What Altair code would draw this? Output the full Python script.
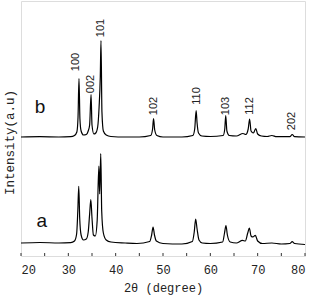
import altair as alt
import pandas as pd

# --- data ---
b_theta = [20.0, 24.0, 28.0, 30.5, 31.3, 31.8, 32.05, 32.25, 32.45, 32.7, 33.2, 33.8, 34.2, 34.5, 34.8, 35.0,
           35.4, 35.8, 36.2, 36.5, 36.75, 36.9, 37.1, 37.4, 38.0, 39.0, 42.0, 45.0, 47.4, 47.8, 48.0, 48.25,
           48.7, 50.0, 54.0, 56.3, 56.7, 57.0, 57.2, 57.5, 58.2, 60.0, 62.7, 63.05, 63.25, 63.5, 64.0, 65.5,
           66.9, 67.5, 68.0, 68.3, 68.6, 69.1, 69.6, 70.0, 70.8, 72.0, 73.0, 74.0, 76.8, 77.3, 77.8, 80.0]
b_int = [119, 119.3, 119, 119.3, 120.5, 124, 139, 177.5, 137, 125, 121, 121.5, 125, 131, 161.5, 131,
         122, 123, 129, 149, 179, 215.5, 144, 125, 121, 119.5, 119, 119, 120.5, 127, 137.5, 126,
         120.5, 119, 119, 120.5, 127, 145.5, 133, 123, 120, 119.5, 120.5, 127, 140.5, 125, 120.5, 120,
         122.5, 121.5, 127, 137, 125, 123, 127.5, 122, 120, 119.5, 120.5, 119.3, 119.3, 121.5, 119.3, 119]

a_theta = [20.0, 24.0, 28.0, 30.5, 31.3, 31.75, 32.0, 32.2, 32.4, 32.7, 33.2, 33.8, 34.2, 34.5, 34.75, 35.0,
           35.3, 35.7, 36.1, 36.45, 36.62, 36.85, 37.05, 37.4, 38.0, 39.0, 42.0, 44.5, 47.2, 47.6, 47.9, 48.2,
           48.6, 50.0, 54.0, 56.2, 56.6, 56.9, 57.2, 57.6, 58.3, 60.0, 62.6, 63.0, 63.3, 63.6, 64.2, 65.5,
           66.8, 67.4, 67.9, 68.25, 68.6, 69.0, 69.5, 70.0, 71.0, 73.0, 75.0, 76.8, 77.3, 77.8, 80.0]
a_int = [13, 13.5, 13, 13.3, 15, 22, 45, 69.6, 38, 21, 16, 17, 24, 42, 56.3, 38,
         21, 20, 36, 90, 62, 102.3, 45, 23, 16, 14, 13, 12.5, 14.5, 21, 29, 21,
         15, 12.5, 12, 14.5, 24, 37, 27, 16, 13, 12.5, 14, 23, 30.3, 21, 14, 13,
         15.6, 15, 23, 28, 20, 19, 20.6, 15, 12.5, 13, 12, 12.5, 14.3, 12.5, 11.5]

peak_labels = ["100", "002", "101", "102", "110", "103", "112", "202"]
peak_label_theta = [31.62, 34.79, 36.90, 48.10, 57.18, 63.31, 68.38, 77.25]
peak_label_int = [194, 172, 228, 150, 160, 150, 150, 135]

curve_names = ["b", "a"]
curve_name_theta = [24.0, 24.4]
curve_name_int = [149, 35]

x_tick_values = [20, 25, 30, 35, 40, 45, 50, 55, 60, 65, 70, 75, 80]
x_label_values = [20, 30, 40, 50, 60, 70, 80]

W, H = 284, 255

df = pd.concat([
    pd.DataFrame({"theta": b_theta, "intensity": b_int, "sample": "b"}),
    pd.DataFrame({"theta": a_theta, "intensity": a_int, "sample": "a"}),
])
lab = pd.DataFrame({"theta": peak_label_theta, "intensity": peak_label_int, "label": peak_labels})
names = pd.DataFrame({"theta": curve_name_theta, "intensity": curve_name_int, "label": curve_names})
ticks = pd.DataFrame({"t": x_tick_values})

xscale = alt.Scale(domain=[20, 80], nice=False, zero=False)
yscale = alt.Scale(domain=[0, 255], nice=False, zero=False)

xaxis = alt.Axis(values=x_label_values, ticks=False, domain=False, grid=False,
                 labelFont="Liberation Mono", labelFontSize=12, labelColor="#222",
                 labelPadding=8, title="2θ (degree)", titleFont="Liberation Mono",
                 titleFontSize=12, titleFontWeight="normal", titleColor="#222", titlePadding=7)
yaxis = alt.Axis(labels=False, ticks=False, domain=False, grid=False,
                 title="Intensity(a.u)", titleFont="Liberation Mono", titleFontSize=12.5,
                 titleFontWeight="normal", titleColor="#222", titlePadding=5, titleY=141)

lines = alt.Chart(df).mark_line(color="black", strokeWidth=1.2, interpolate="monotone").encode(
    x=alt.X("theta:Q", scale=xscale, axis=xaxis),
    y=alt.Y("intensity:Q", scale=yscale, axis=yaxis),
    detail="sample:N",
)

peak_text = alt.Chart(lab).mark_text(angle=270, font="Liberation Sans", fontSize=11,
                                     align="center", baseline="middle", color="#222").encode(
    x=alt.X("theta:Q", scale=xscale),
    y=alt.Y("intensity:Q", scale=yscale),
    text="label:N",
)

name_text = alt.Chart(names).mark_text(font="Liberation Sans", fontSize=19,
                                       align="center", baseline="middle", color="#111").encode(
    x=alt.X("theta:Q", scale=xscale),
    y=alt.Y("intensity:Q", scale=yscale),
    text="label:N",
)

tick_marks = alt.Chart(ticks).mark_rule(color="#333", strokeWidth=1).encode(
    x=alt.X("t:Q", scale=xscale),
    y=alt.value(H - 3),
    y2=alt.value(H),
)

chart = alt.layer(lines, peak_text, name_text, tick_marks).properties(
    width=W, height=H,
    autosize=alt.AutoSizeParams(type="none"),
    padding={"left": 21, "top": 1, "right": 7, "bottom": 39},
).configure_view(stroke="#333", strokeWidth=1.6).configure(background="white")

chart.save("out.html", embed_options={"renderer": "svg", "actions": False})
